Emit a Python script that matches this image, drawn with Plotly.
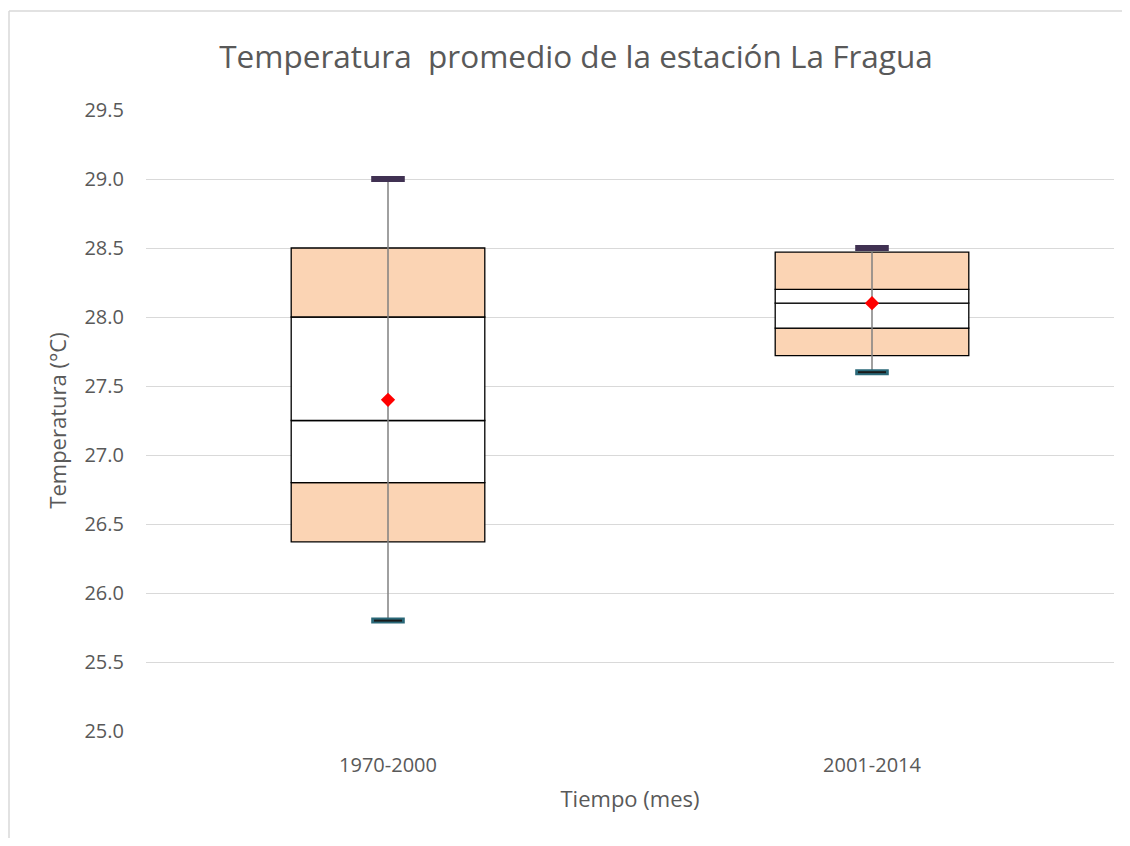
import plotly.graph_objects as go

# Datos
categorias = ["1970-2000", "2001-2014"]
minimo = [25.80, 27.60]
limite_inferior = [26.37, 27.72]
cuartil_1 = [26.80, 27.92]
mediana = [27.25, 28.10]
cuartil_3 = [28.00, 28.20]
limite_superior = [28.50, 28.47]
maximo = [29.00, 28.50]
promedio = [27.40, 28.10]

GRIS_TEXTO = "#595959"
DURAZNO = "#FBD4B4"
FUENTE = "Open Sans"

fig = go.Figure()

# Segmentos de la caja (barras apiladas con base)
segmentos = [
    (limite_inferior, cuartil_1, DURAZNO),
    (cuartil_1, mediana, "white"),
    (mediana, cuartil_3, "white"),
    (cuartil_3, limite_superior, DURAZNO),
]
for abajo, arriba, color in segmentos:
    fig.add_trace(go.Bar(
        x=categorias,
        base=abajo,
        y=[a - b for a, b in zip(arriba, abajo)],
        width=0.4,
        marker=dict(color=color, line=dict(color="black", width=1.3)),
        hoverinfo="skip",
        showlegend=False,
    ))

# Bigotes
xs, ys = [], []
for c, lo, hi in zip(categorias, minimo, maximo):
    xs += [c, c, None]
    ys += [lo, hi, None]
fig.add_trace(go.Scatter(x=xs, y=ys, mode="lines",
                         line=dict(color="#808080", width=1.5),
                         showlegend=False, hoverinfo="skip"))

# Extremos
fig.add_trace(go.Scatter(x=categorias, y=maximo, mode="markers",
                         marker=dict(symbol="line-ew", size=24,
                                     line=dict(color="#403152", width=6)),
                         showlegend=False))
fig.add_trace(go.Scatter(x=categorias, y=minimo, mode="markers",
                         marker=dict(symbol="line-ew", size=24,
                                     line=dict(color="#2A6878", width=6)),
                         showlegend=False))
fig.add_trace(go.Scatter(x=categorias, y=minimo, mode="markers",
                         marker=dict(symbol="line-ew", size=20,
                                     line=dict(color="#1a1a1a", width=2)),
                         showlegend=False))

# Promedio
fig.add_trace(go.Scatter(x=categorias, y=promedio, mode="markers",
                         marker=dict(symbol="diamond", size=11, color="red"),
                         showlegend=False))

# la página tiene un margen de 8 px, se descuenta aquí
ANCHO, ALTO = 1114, 830
borde_x = (1 - 138) / 968
borde_y = (723 - 3) / 621
fig.update_layout(
    width=ANCHO, height=ALTO,
    barmode="overlay",
    paper_bgcolor="white", plot_bgcolor="white",
    margin=dict(l=138, r=8, t=102, b=107),
    font=dict(family=FUENTE, color=GRIS_TEXTO),
    title=dict(text="Temperatura  promedio de la estación La Fragua",
               x=568 / ANCHO, xref="container", xanchor="center",
               y=1 - 49 / ALTO, yref="container", yanchor="middle",
               font=dict(size=31.5, color=GRIS_TEXTO, family=FUENTE)),
    xaxis=dict(
        title=dict(text="Tiempo (mes)", font=dict(size=22), standoff=14),
        tickfont=dict(size=20), showgrid=False, showline=False,
        ticks="", range=[-0.5, 1.5], ticklabelstandoff=20,
    ),
    yaxis=dict(
        title=dict(text="Temperatura (°C)", font=dict(size=22), standoff=11),
        range=[25, 29.5], dtick=0.5, tickformat=".1f",
        tickfont=dict(size=20), gridcolor="#D9D9D9", gridwidth=1,
        zeroline=False, showline=False, ticks="", ticklabelstandoff=21,
    ),
    shapes=[
        dict(type="line", xref="paper", yref="paper",
             x0=borde_x, x1=1.2, y0=borde_y, y1=borde_y,
             line=dict(color="#D9D9D9", width=1.5), layer="below"),
        dict(type="line", xref="paper", yref="paper",
             x0=borde_x, x1=borde_x, y0=-0.3, y1=borde_y,
             line=dict(color="#D9D9D9", width=1.5), layer="below"),
    ],
)

fig.write_html("out.html")
